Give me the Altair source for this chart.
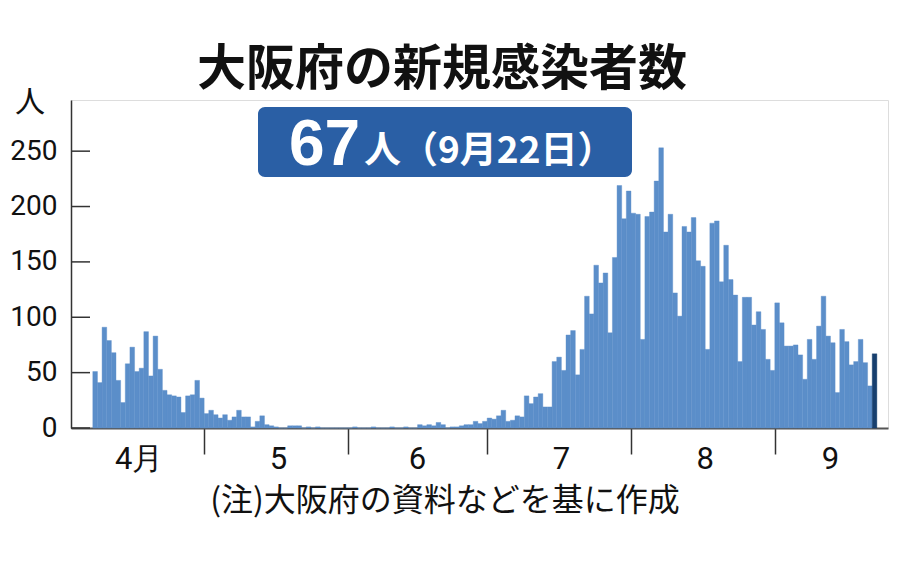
import altair as alt
import pandas as pd

# ---- data (daily new cases, Osaka, 2020-04-07 .. 2020-09-22) ----
april = [51, 41, 91, 79, 68, 43, 23, 58, 73, 51, 54, 87, 47, 83, 53, 34, 30, 29, 28, 14, 29, 30, 43, 27]
may = [13, 16, 12, 9, 12, 7, 10, 16, 10, 10, 1, 6, 11, 3, 2, 1, 0, 0, 2, 2, 2, 0, 1, 0, 1, 0, 0, 0, 0, 0, 0]
june = [0, 1, 0, 0, 0, 1, 0, 0, 0, 1, 0, 0, 1, 0, 0, 3, 2, 3, 2, 5, 3, 0, 1, 1, 2, 3, 3, 6, 4, 6]
july = [9, 8, 11, 16, 6, 7, 11, 10, 29, 22, 28, 31, 19, 19, 60, 64, 52, 84, 88, 48, 71, 119, 103, 147,
        131, 140, 86, 154, 219, 189, 214]
august = [194, 193, 80, 191, 195, 223, 253, 177, 193, 122, 101, 182, 177, 190, 151, 146, 71, 185, 187,
          132, 165, 134, 120, 60, 118, 118, 93, 105, 89, 62, 52]
september = [113, 95, 74, 74, 75, 66, 44, 80, 62, 92, 119, 83, 77, 32, 89, 78, 57, 60, 80, 59, 38, 67]

start_date = "2020-04-07"
origin_date = "2020-04-01"
month_starts = ["2020-05-01", "2020-06-01", "2020-07-01", "2020-08-01", "2020-09-01"]
month_labels = ["4月", "5", "6", "7", "8", "9"]
month_label_dates = ["2020-04-17", "2020-05-17", "2020-06-16", "2020-07-17", "2020-08-17", "2020-09-13"]
y_ticks = [0, 50, 100, 150, 200, 250]

title_text = ["大阪府の新規感染者数"]
big_number = ["67"]
big_suffix = ["人（9月22日）"]
unit_text = ["人"]
note_text = ["(注)大阪府の資料などを基に作成"]

# ---- build tables ----
values = april + may + june + july + august + september
dates = pd.date_range(start_date, periods=len(values), freq="D")
origin = pd.Timestamp(origin_date)
day = [(d - origin).days for d in dates]
df = pd.DataFrame({
    "day": day,
    "day_end": [d + 1 for d in day],
    "cases": values,
    "kind": ["past"] * (len(values) - 1) + ["latest"],
})
tick_days = [(pd.Timestamp(m) - origin).days for m in month_starts]
lab_df = pd.DataFrame({
    "pos": [(pd.Timestamp(m) - origin).days for m in month_label_dates],
    "label": month_labels,
})
ytick_df = pd.DataFrame({"v": y_ticks})

NUMFONT = "Roboto, Liberation Sans, sans-serif"
CJK = "Noto Sans CJK JP, sans-serif"

xscale = alt.Scale(domain=[1.3, 177.4], nice=False, zero=False)
yscale = alt.Scale(domain=[0, 296.2], nice=False)

bars = alt.Chart(df).mark_rect(strokeWidth=0.4).encode(
    x=alt.X("day:Q", scale=xscale,
            axis=alt.Axis(values=tick_days, labels=False, title=None, grid=False,
                          tickSize=26, tickColor="#333333", tickWidth=1.5,
                          domainColor="#555555", domainWidth=2)),
    x2="day_end:Q",
    y=alt.Y("cases:Q", scale=yscale,
            axis=alt.Axis(values=y_ticks, title=None, grid=False, ticks=False, tickSize=0,
                          labelPadding=14, labelFont=NUMFONT, labelFontSize=28,
                          labelColor="#111111", domainColor="#333333", domainWidth=1.5)),
    y2=alt.datum(0),
    color=alt.Color("kind:N", scale=alt.Scale(domain=["past", "latest"], range=["#5b8ec9", "#173f6e"]),
                    legend=None),
    stroke=alt.Stroke("kind:N", scale=alt.Scale(domain=["past", "latest"], range=["#5b8ec9", "#173f6e"]),
                      legend=None),
)

yticks = alt.Chart(ytick_df).mark_rule(color="#333333", strokeWidth=1.5).encode(
    y=alt.Y("v:Q", scale=yscale), x=alt.value(0), x2=alt.value(19)
)

mlabels = alt.Chart(lab_df).mark_text(font=NUMFONT, fontSize=31, color="#111111", baseline="middle").encode(
    x=alt.X("pos:Q", scale=xscale), y=alt.value(360), text="label:N"
)

title = alt.Chart(pd.DataFrame({"t": title_text})).mark_text(
    font=CJK, fontSize=49, fontWeight="bold", color="#111111", baseline="middle", align="center"
).encode(x=alt.value(371), y=alt.value(-30), text="t:N")

box = alt.Chart(pd.DataFrame({"t": title_text})).mark_rect(
    color="#2a5fa5", cornerRadius=7
).encode(x=alt.value(187), x2=alt.value(561), y=alt.value(7), y2=alt.value(77))

num = alt.Chart(pd.DataFrame({"t": big_number})).mark_text(
    font="Liberation Sans, Arial, sans-serif", fontSize=64, fontWeight="bold", color="white",
    baseline="alphabetic", align="left"
).encode(x=alt.value(218), y=alt.value(65), text="t:N")

suffix = alt.Chart(pd.DataFrame({"t": big_suffix})).mark_text(
    font=CJK, fontSize=37, fontWeight="bold", color="white", baseline="alphabetic", align="left"
).encode(x=alt.value(293), y=alt.value(63), text="t:N")

unit = alt.Chart(pd.DataFrame({"t": unit_text})).mark_text(
    font=CJK, fontSize=30, color="#111111", baseline="middle", align="center"
).encode(x=alt.value(-41), y=alt.value(3), text="t:N")

note = alt.Chart(pd.DataFrame({"t": note_text})).mark_text(
    font=CJK, fontSize=32, color="#111111", baseline="middle", align="center"
).encode(x=alt.value(374), y=alt.value(401), text="t:N")

chart = alt.layer(bars, yticks, mlabels, title, box, num, suffix, unit, note).properties(
    width=817, height=328,
    autosize=alt.AutoSizeParams(type="none"),
    padding={"left": 63, "top": 92, "right": 4, "bottom": 125},
).configure_view(stroke=None).configure(background="white")

chart.save("out.html", embed_options={"renderer": "svg", "actions": False})
